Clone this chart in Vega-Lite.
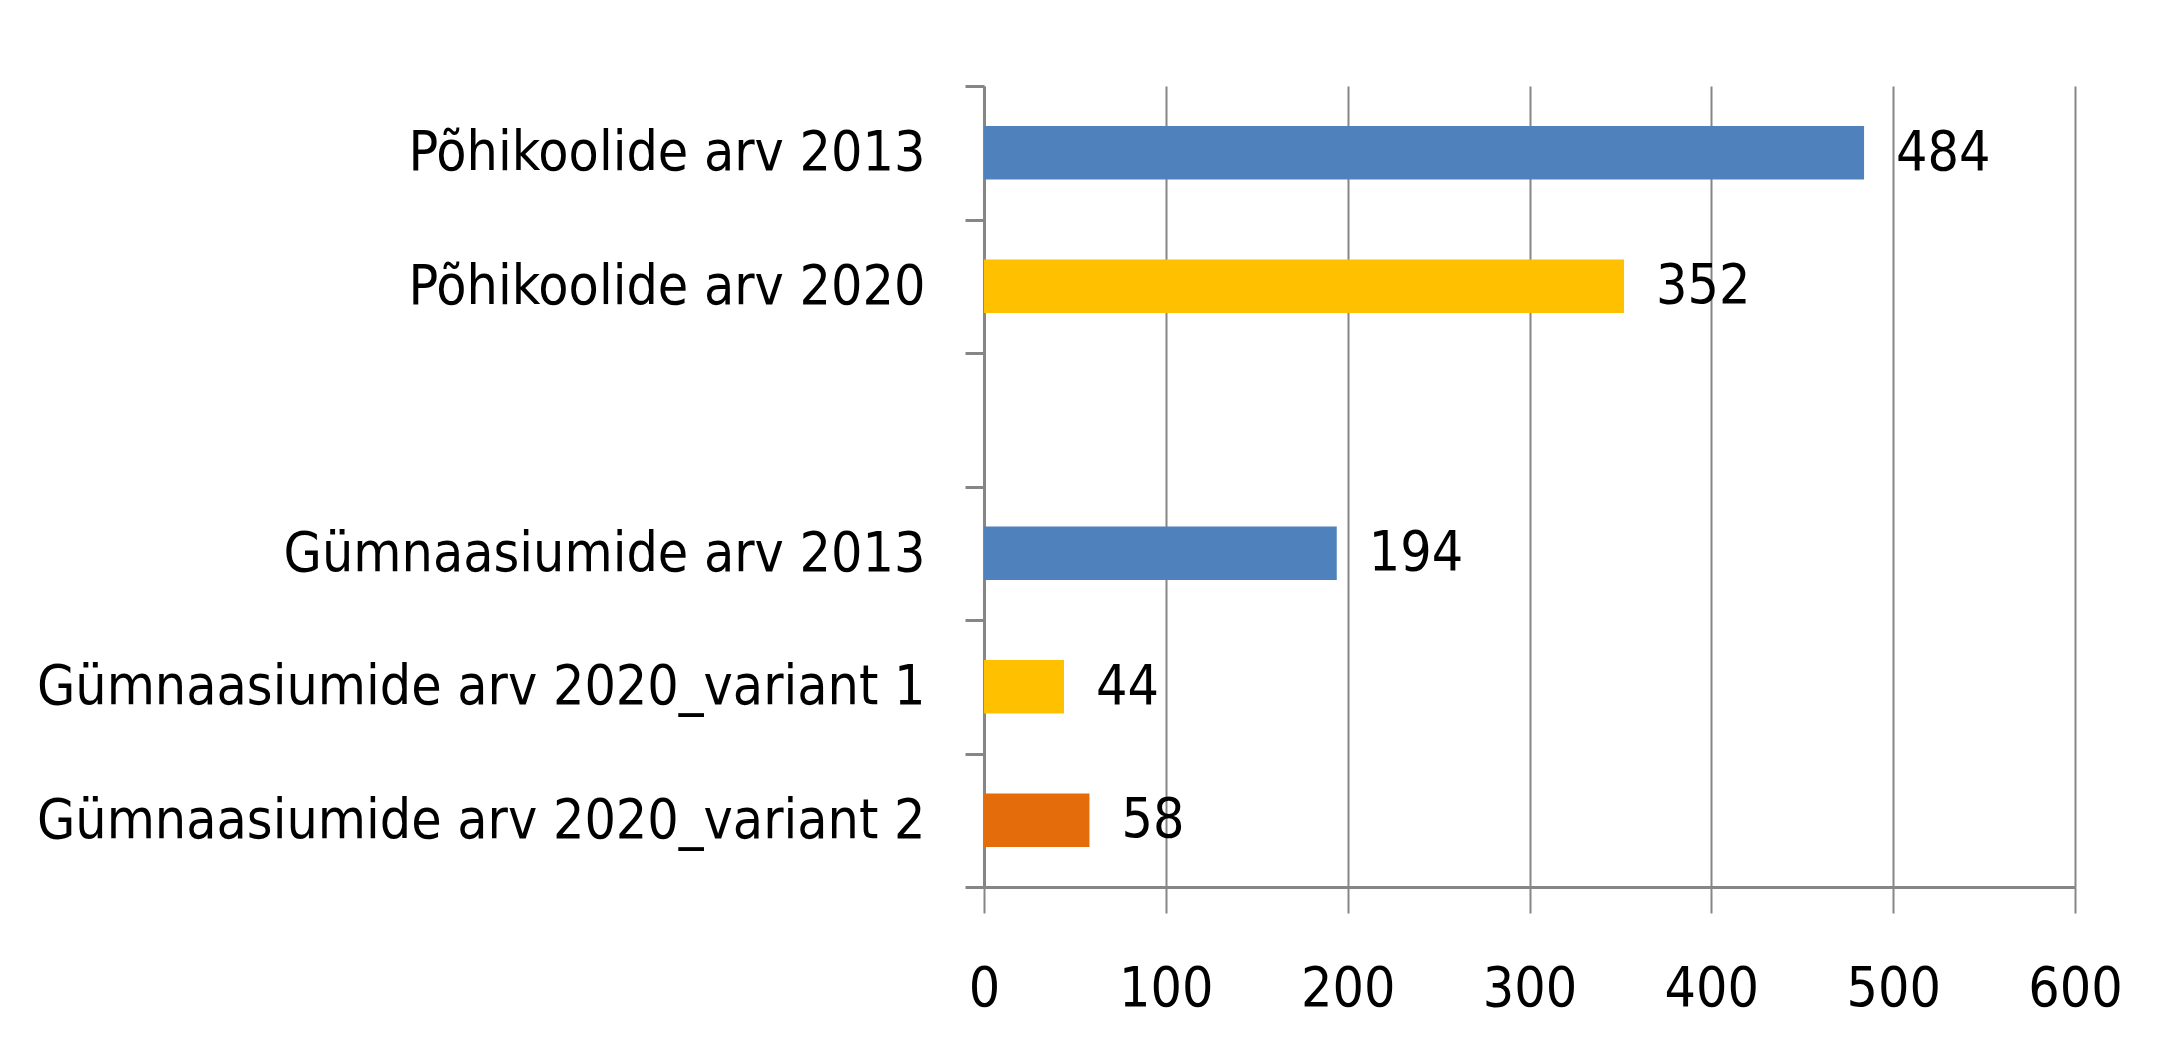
{
  "$schema": "https://vega.github.io/schema/vega-lite/v6.json",
  "autosize": {"type": "none"},
  "width": 1091,
  "height": 801,
  "padding": {"left": 984, "top": 86, "right": 97, "bottom": 176},
  "background": "white",
  "config": {"view": {"stroke": null}},
  "data": {"values": [
    {"kategooria": "Põhikoolide arv 2013", "arv": 484, "seeria": "2013"},
    {"kategooria": "Põhikoolide arv 2020", "arv": 352, "seeria": "2020"},
    {"kategooria": "Gümnaasiumide arv 2013", "arv": 194, "seeria": "2013"},
    {"kategooria": "Gümnaasiumide arv 2020_variant 1", "arv": 44, "seeria": "2020"},
    {"kategooria": "Gümnaasiumide arv 2020_variant 2", "arv": 58, "seeria": "2020 variant 2"}
  ]},
  "encoding": {
    "y": {
      "field": "kategooria", "type": "nominal", "sort": null,
      "scale": {
        "domain": ["Põhikoolide arv 2013", "Põhikoolide arv 2020", " ", "Gümnaasiumide arv 2013", "Gümnaasiumide arv 2020_variant 1", "Gümnaasiumide arv 2020_variant 2"],
        "paddingInner": 0, "paddingOuter": 0
      },
      "axis": {
        "title": null, "grid": false,
        "domainColor": "#868686", "domainWidth": 3,
        "ticks": true, "tickColor": "#868686", "tickWidth": 3, "tickSize": 19, "tickBand": "extent",
        "labelFont": "DejaVu Sans Condensed, Liberation Sans, sans-serif",
        "labelFontSize": 55, "labelColor": "#000000", "labelPadding": 40, "labelLimit": 1200
      }
    },
    "x": {
      "field": "arv", "type": "quantitative",
      "scale": {"domain": [0, 600], "nice": false},
      "axis": {
        "title": null, "values": [0, 100, 200, 300, 400, 500, 600],
        "grid": true, "gridColor": "#868686", "gridWidth": 2,
        "domainColor": "#868686", "domainWidth": 3,
        "tickColor": "#868686", "tickWidth": 2, "tickSize": 26,
        "labelFont": "DejaVu Sans Condensed, Liberation Sans, sans-serif",
        "labelFontSize": 55, "labelColor": "#000000",
        "labelBaseline": "alphabetic", "labelPadding": 92,
        "labelFlush": false, "labelOverlap": false
      }
    }
  },
  "layer": [
    {
      "mark": {"type": "bar", "height": {"band": 0.4}},
      "encoding": {
        "color": {
          "field": "seeria", "type": "nominal",
          "scale": {"domain": ["2013", "2020", "2020 variant 2"], "range": ["#4F81BD", "#FFC000", "#E46C0A"]},
          "legend": null
        }
      }
    },
    {
      "mark": {"type": "text", "align": "left", "baseline": "middle", "dx": 32,
        "font": "DejaVu Sans Condensed, Liberation Sans, sans-serif", "fontSize": 55, "color": "#000000"},
      "encoding": {"text": {"field": "arv", "type": "quantitative"}}
    }
  ]
}
